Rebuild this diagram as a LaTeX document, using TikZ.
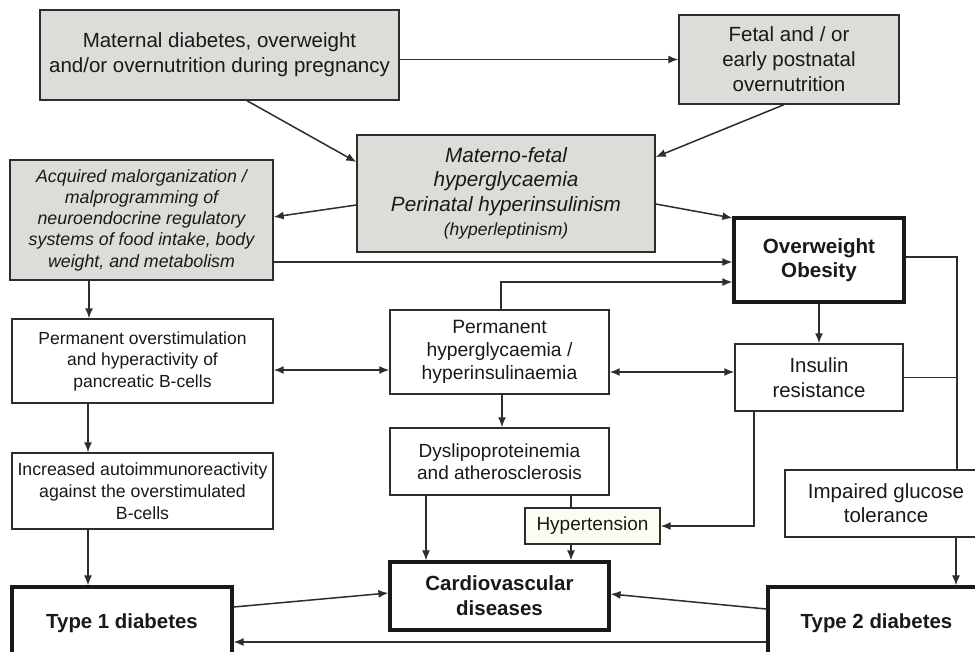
\documentclass[tikz,border=0pt]{standalone}
\usepackage{fontspec}
\setmainfont{Liberation Sans}
\usetikzlibrary{arrows.meta,calc}
\definecolor{boxgray}{RGB}{218,221,216}
\definecolor{cream}{RGB}{252,252,242}
\definecolor{linec}{RGB}{45,45,45}
\newcommand{\fsz}[2]{\fontsize{#1}{#2}\selectfont}
\begin{document}
\begin{tikzpicture}[x=1pt,y=-1pt,
  base/.style={draw=linec, line width=1.4pt, inner sep=0pt, align=center, text=black!90},
  graybox/.style={base, fill=boxgray},
  plainbox/.style={base, fill=white},
  heavybox/.style={base, draw=black!90, line width=3.2pt, fill=white},
  ln/.style={draw=linec, line width=1.5pt},
  arr/.style={ln, -{Latex[length=10pt,width=8pt]}},
  darr/.style={ln, {Latex[length=10pt,width=8pt]}-{Latex[length=10pt,width=8pt]}}]
\useasboundingbox (0,0) rectangle (975,651);
\clip (0,0) rectangle (975,651);
\fill[white] (0,0) rectangle (975,651);

% nodes
\node[graybox, minimum width=359pt, minimum height=90pt, font=\fsz{20.5}{25}] (b1) at (219.5,55)
  {Maternal diabetes, overweight\\and/or overnutrition during pregnancy};
\node[graybox, minimum width=220pt, minimum height=89pt, font=\fsz{20.5}{25}] (b2) at (789,59.5)
  {Fetal and / or\\early postnatal\\overnutrition};
\node[graybox, minimum width=298pt, minimum height=117pt, font=\fsz{20.7}{24.5}\itshape] (b3) at (506,193.5)
  {Materno-fetal\\hyperglycaemia\\Perinatal hyperinsulinism\\{\fsz{17.5}{24.5}(hyperleptinism)}};
\node[graybox, minimum width=263pt, minimum height=120pt, font=\fsz{17.8}{21.2}\itshape] (b4) at (141.5,220)
  {Acquired malorganization /\\malprogramming of\\neuroendocrine regulatory\\systems of food intake, body\\weight, and metabolism};
\node[heavybox, minimum width=170pt, minimum height=84pt, font=\fsz{20.6}{23.5}\bfseries] (ow) at (819,260)
  {Overweight\\Obesity};
\node[plainbox, minimum width=219pt, minimum height=84pt, font=\fsz{19.3}{23}] (hg) at (499.5,352)
  {Permanent\\hyperglycaemia /\\hyperinsulinaemia};
\node[plainbox, minimum width=261pt, minimum height=84pt, font=\fsz{17.5}{21.5}] (os) at (142.5,361)
  {Permanent overstimulation\\and hyperactivity of\\pancreatic B-cells};
\node[plainbox, minimum width=168pt, minimum height=67pt, font=\fsz{20.4}{25}] (ins) at (819,377.5)
  {Insulin\\resistance};
\node[plainbox, minimum width=261pt, minimum height=76pt, font=\fsz{17.7}{21.7}] (ai) at (142.5,491)
  {Increased autoimmunoreactivity\\against the overstimulated\\B-cells};
\node[plainbox, minimum width=219pt, minimum height=67pt, font=\fsz{19}{22}] (dy) at (499.5,461.5)
  {Dyslipoproteinemia\\and atherosclerosis};
\node[base, fill=cream, minimum width=135pt, minimum height=36pt, font=\fsz{19}{22}] (ht) at (592.5,526)
  {Hypertension};
\node[heavybox, minimum width=219pt, minimum height=68pt, font=\fsz{20.5}{25}\bfseries] (cv) at (499.5,596)
  {Cardiovascular\\diseases};
\node[plainbox, minimum width=202pt, minimum height=67pt, font=\fsz{20.5}{24}] (imp) at (886,503.5)
  {Impaired glucose\\tolerance};
\node[heavybox, minimum width=220pt, minimum height=72pt, font=\fsz{20.4}{25}\bfseries] (t1) at (122,623)
  {Type 1 diabetes};
\node[heavybox, minimum width=217pt, minimum height=72pt, font=\fsz{20.4}{25}\bfseries] (t2) at (876.5,623)
  {Type 2 diabetes};

% connectors
\draw[arr] (b1.east |- b2.west) -- (b2.west);
\draw[arr] ([xshift=27.5pt]b1.south) -- ([yshift=31.5pt]b3.west);
\draw[arr] ([xshift=-5pt]b2.south) -- ([yshift=36.5pt]b3.east);
\draw[arr] ([yshift=-11.5pt]b3.west) -- ([yshift=3pt]b4.east);
\draw[arr] ([yshift=-10.5pt]b3.east) -- ([yshift=42pt]ow.west);
\draw[arr] ([yshift=-42pt]b4.east) -- ([yshift=-42pt]b4.east -| ow.west);
\draw[arr] ([xshift=1.5pt]hg.north) |- ([yshift=-22pt]ow.west);
\coordinate (rj) at ([xshift=71pt]imp.north);
\draw[ln] ([yshift=3pt]ow.east) -| (rj);
\draw[ln] (ins.east) -- (ins.east -| rj);
\draw[arr] ([xshift=70pt]imp.south) -- ([xshift=70pt]imp.south |- t2.north);
\draw[arr] ([xshift=-52.5pt]b4.south) -- ([xshift=-52.5pt]b4.south |- os.north);
\draw[darr] ([yshift=-9pt]os.east) -- ([yshift=-9pt]os.east -| hg.west);
\draw[darr] ([yshift=-20pt]hg.east) -- ([yshift=-20pt]hg.east -| ins.west);
\draw[arr] (ow.south) -- (ins.north);
\draw[arr] ([xshift=-54.5pt]os.south) -- ([xshift=-54.5pt]os.south |- ai.north);
\draw[arr] ([xshift=-54.5pt]ai.south) -- ([xshift=-54.5pt]ai.south |- t1.north);
\draw[arr] ([xshift=2.5pt]hg.south) -- ([xshift=2.5pt]hg.south |- dy.north);
\draw[arr] ([xshift=-73.5pt]dy.south) -- ([xshift=-73.5pt]dy.south |- cv.north);
\draw[ln] ([xshift=-21.5pt]ht.north |- dy.south) -- ([xshift=-21.5pt]ht.north);
\draw[arr] ([xshift=-21.5pt]ht.south) -- ([xshift=-21.5pt]ht.south |- cv.north);
\draw[arr] ([xshift=-65pt]ins.south) |- (ht.east);
\draw[arr] ([yshift=16pt]t1.east) -- ([yshift=3pt]cv.west);
\draw[arr] ([yshift=14pt]t2.west) -- ([yshift=2pt]cv.east);
\draw[arr] ([yshift=-19pt]t2.west) -- ([yshift=-19pt]t2.west -| t1.east);
\end{tikzpicture}
\end{document}
